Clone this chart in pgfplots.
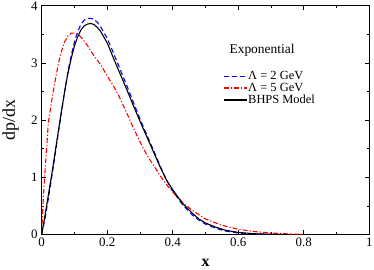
\documentclass[border=0pt]{standalone}
\usepackage{pgfplots}
\pgfplotsset{compat=1.18}
\usepackage{fontspec}
\setmainfont{Liberation Serif}
\begin{document}
\begin{tikzpicture}
\begin{axis}[
  name=ax,
  scale only axis, width=328bp, height=229bp,
  xmin=0, xmax=1, ymin=0, ymax=4,
  xtick={0,0.2,...,1}, ytick={0,1,2,3,4},
  minor xtick={0.1,0.3,...,0.9}, minor ytick={0.5,1.5,2.5,3.5},
  xticklabels={0,0.2,0.4,0.6,0.8,1},
  yticklabels={0,1,2,3,4},
  tick align=inside, major tick length=4bp, minor tick length=2.5bp,
  tick style={black, line width=0.6pt},
  axis line style={line width=0.9pt},
  ticklabel style={font=\fontsize{13}{15}\selectfont, inner sep=1.5bp},
  xticklabel style={yshift=-1.5bp},
  yticklabel style={xshift=-2.5bp},
  xlabel={\textbf{x}}, ylabel={dp/dx},
  xlabel style={font=\fontsize{16}{18}\selectfont, inner sep=2.5bp, at={(axis description cs:0.5,-0.125)}, anchor=center},
  ylabel style={font=\fontsize{18}{20}\selectfont, inner sep=2.5bp, at={(axis description cs:-0.095,0.5)}, anchor=center},
  legend style={draw=none, fill=none, at={(0.553,0.718)}, anchor=north west,
    font=\fontsize{12.5}{13}\selectfont, row sep=0bp, inner sep=0bp,
    nodes={inner sep=1bp}},
  legend cell align=left,
]
\addlegendimage{legend image code/.code={\color{blue}\pgfsetstrokecolor{blue}\draw[draw=blue, line width=1.2pt, dash pattern=on 5bp off 3bp] (0,0) -- (23bp,0);}}
\addlegendentry{Λ = 2 GeV}
\addlegendimage{legend image code/.code={\color{red}\pgfsetstrokecolor{red}\draw[draw=red, line width=1.2pt, dash pattern=on 5bp off 2bp on 1.2bp off 2bp] (0,0) -- (23bp,0);}}
\addlegendentry{Λ = 5 GeV}
\addlegendimage{legend image code/.code={\draw[draw=black, line width=1.2pt] (0,0) -- (23bp,0);}}
\addlegendentry{BHPS Model}
\addplot[forget plot, blue, line width=1.1pt, dash pattern=on 5bp off 3bp] coordinates {
(0,0) (0.01,0.28) (0.02,0.62) (0.03,0.98) (0.04,1.36) (0.05,1.75) (0.06,2.13)
(0.07,2.50) (0.08,2.84) (0.09,3.13) (0.10,3.37) (0.11,3.55) (0.12,3.68) (0.13,3.75)
(0.14,3.78) (0.15,3.78) (0.16,3.76) (0.17,3.71) (0.18,3.63) (0.20,3.43) (0.22,3.16)
(0.24,2.88) (0.26,2.60) (0.28,2.31) (0.30,2.02) (0.32,1.75) (0.34,1.49) (0.36,1.22)
(0.38,0.96) (0.40,0.76) (0.43,0.52) (0.46,0.34) (0.48,0.25) (0.50,0.18) (0.53,0.11)
(0.56,0.06) (0.60,0.025) (0.65,0.008) (0.70,0)
};
\addplot[forget plot, red, line width=1.1pt, dash pattern=on 5bp off 2bp on 1.2bp off 2bp] coordinates {
(0,0) (0.002,0.3) (0.005,0.65) (0.01,1.1) (0.015,1.5) (0.02,1.95) (0.03,2.32)
(0.04,2.66) (0.05,2.96) (0.06,3.20) (0.07,3.37) (0.08,3.47) (0.09,3.52) (0.10,3.52)
(0.11,3.50) (0.12,3.45) (0.13,3.38) (0.14,3.30) (0.15,3.21) (0.16,3.12) (0.18,2.97)
(0.20,2.77) (0.22,2.59) (0.24,2.37) (0.26,2.12) (0.28,1.86) (0.30,1.62) (0.32,1.40)
(0.34,1.22) (0.36,1.04) (0.38,0.88) (0.40,0.74) (0.43,0.56) (0.46,0.42) (0.50,0.27)
(0.55,0.16) (0.60,0.09) (0.65,0.05) (0.70,0.025) (0.75,0.01) (0.80,0)
};
\addplot[forget plot, black, line width=1.1pt] coordinates {
(0,0) (0.01,0.33) (0.02,0.68) (0.03,1.03) (0.04,1.40) (0.05,1.78) (0.06,2.15)
(0.07,2.50) (0.08,2.82) (0.09,3.08) (0.10,3.30) (0.11,3.46) (0.12,3.58) (0.13,3.65)
(0.14,3.68) (0.15,3.69) (0.16,3.67) (0.17,3.62) (0.18,3.55) (0.20,3.35) (0.22,3.07)
(0.24,2.80) (0.26,2.53) (0.28,2.25) (0.30,1.98) (0.32,1.72) (0.34,1.46) (0.36,1.20)
(0.38,0.96) (0.40,0.78) (0.43,0.54) (0.46,0.37) (0.48,0.27) (0.50,0.20) (0.53,0.13)
(0.56,0.075) (0.60,0.035) (0.65,0.012) (0.70,0.003) (0.75,0)
};
\node[anchor=west, font=\fontsize{13.5}{15}\selectfont, inner sep=0pt] at (axis description cs:0.573,0.805) {Exponential};
\end{axis}
\end{tikzpicture}
\end{document}
